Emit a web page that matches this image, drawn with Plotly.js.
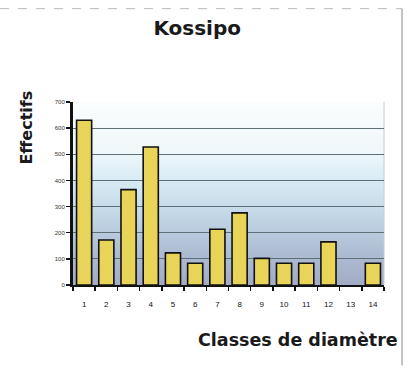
<!DOCTYPE html>
<html>
<head>
<meta charset="utf-8">
<script src="https://cdn.plot.ly/plotly-3.0.1.min.js"></script>
<style>
  html, body { margin: 0; padding: 0; background: #ffffff; }
  #chart { width: 416px; height: 369px; }
</style>
</head>
<body>
<div id="chart"></div>
<script>
// Diameter classes and tree counts (Kossipo)
const classes = ['1','2','3','4','5','6','7','8','9','10','11','12','13','14'];
const effectifs = [630, 172, 365, 528, 123, 83, 213, 276, 102, 83, 83, 165, 0, 83];
const yTicks = [0, 100, 200, 300, 400, 500, 600, 700];

// Vertical sky-like gradient for the plotting area
const gradientSvg =
  '<svg xmlns="http://www.w3.org/2000/svg" width="10" height="100" preserveAspectRatio="none">' +
  '<defs><linearGradient id="g" x1="0" y1="0" x2="0" y2="1">' +
  '<stop offset="0" stop-color="#fbfdfe"/>' +
  '<stop offset="0.28" stop-color="#eef7fa"/>' +
  '<stop offset="0.42" stop-color="#d9ecf5"/>' +
  '<stop offset="0.62" stop-color="#c2d6e6"/>' +
  '<stop offset="0.83" stop-color="#adbcd2"/>' +
  '<stop offset="1" stop-color="#a3abc6"/>' +
  '</linearGradient></defs>' +
  '<rect width="10" height="100" fill="url(#g)"/></svg>';
const gradientUri = 'data:image/svg+xml;charset=utf-8,' + encodeURIComponent(gradientSvg);

const trace = {
  type: 'bar',
  x: classes,
  y: effectifs,
  width: 0.68,
  marker: {
    color: '#e9d45a',
    // no outline for an empty class
    line: { color: '#111111', width: effectifs.map(v => (v > 0 ? 1.6 : 0)) }
  },
  hoverinfo: 'x+y'
};

const boldFont = 'DejaVu Sans, Arial, sans-serif';

const layout = {
  width: 416,
  height: 369,
  margin: { l: 73, r: 32, t: 102, b: 84 },
  paper_bgcolor: '#ffffff',
  plot_bgcolor: 'rgba(0,0,0,0)',
  showlegend: false,
  title: {
    text: '<b>Kossipo</b>',
    font: { family: boldFont, size: 20, color: '#1a1a1a' },
    x: 0.474, xref: 'container', xanchor: 'center',
    y: 0.925, yref: 'container', yanchor: 'middle'
  },
  xaxis: {
    type: 'category',
    categoryorder: 'array',
    categoryarray: classes,
    tickson: 'boundaries',
    ticks: 'outside',
    ticklen: 4,
    tickwidth: 1.5,
    tickcolor: '#111111',
    ticklabelstandoff: 10,
    tickfont: { family: 'Liberation Sans, Arial, sans-serif', size: 8, color: '#111111' },
    showline: true,
    linecolor: '#111111',
    linewidth: 2,
    showgrid: false,
    zeroline: false,
    fixedrange: true
  },
  yaxis: {
    range: [0, 700],
    tickvals: yTicks,
    ticktext: yTicks.map(String),
    ticks: 'outside',
    ticklen: 4,
    tickwidth: 1.5,
    tickcolor: '#111111',
    tickfont: { family: 'Liberation Sans, Arial, sans-serif', size: 6, color: '#333333' },
    showline: true,
    linecolor: '#111111',
    linewidth: 3,
    showgrid: true,
    gridcolor: '#5f6f78',
    gridwidth: 1,
    zeroline: false,
    fixedrange: true
  },
  images: [{
    source: gradientUri,
    xref: 'paper', yref: 'paper',
    x: 0, y: 1, sizex: 1, sizey: 1,
    xanchor: 'left', yanchor: 'top',
    sizing: 'stretch',
    layer: 'below'
  }],
  shapes: [
    // light right edge of the plotting area
    { type: 'line', xref: 'paper', yref: 'paper', x0: 1, x1: 1, y0: 0, y1: 1,
      line: { color: '#c8cdd2', width: 1 }, layer: 'below' },
    // outer frame of the chart (right side and top)
    { type: 'line', xref: 'paper', yref: 'paper', x0: 1.058, x1: 1.058, y0: -0.44, y1: 1.51,
      line: { color: '#8a8a8a', width: 1 } },
    { type: 'line', xref: 'paper', yref: 'paper', x0: -0.235, x1: 1.058, y0: 1.51, y1: 1.51,
      line: { color: '#b8b8b8', width: 1, dash: 'dash' } }
  ],
  annotations: [
    {
      text: '<b>Effectifs</b>',
      xref: 'paper', yref: 'paper',
      x: -0.148, y: 0.86,
      xanchor: 'center', yanchor: 'middle',
      textangle: -90,
      showarrow: false,
      font: { family: boldFont, size: 16, color: '#1a1a1a' }
    },
    {
      text: '<b>Classes de diamètre</b>',
      xref: 'paper', yref: 'paper',
      x: 1.05, y: -0.30,
      xanchor: 'right', yanchor: 'middle',
      showarrow: false,
      font: { family: boldFont, size: 17.5, color: '#1a1a1a' }
    }
  ]
};

Plotly.newPlot('chart', [trace], layout, { displayModeBar: false, staticPlot: true });
</script>
</body>
</html>
